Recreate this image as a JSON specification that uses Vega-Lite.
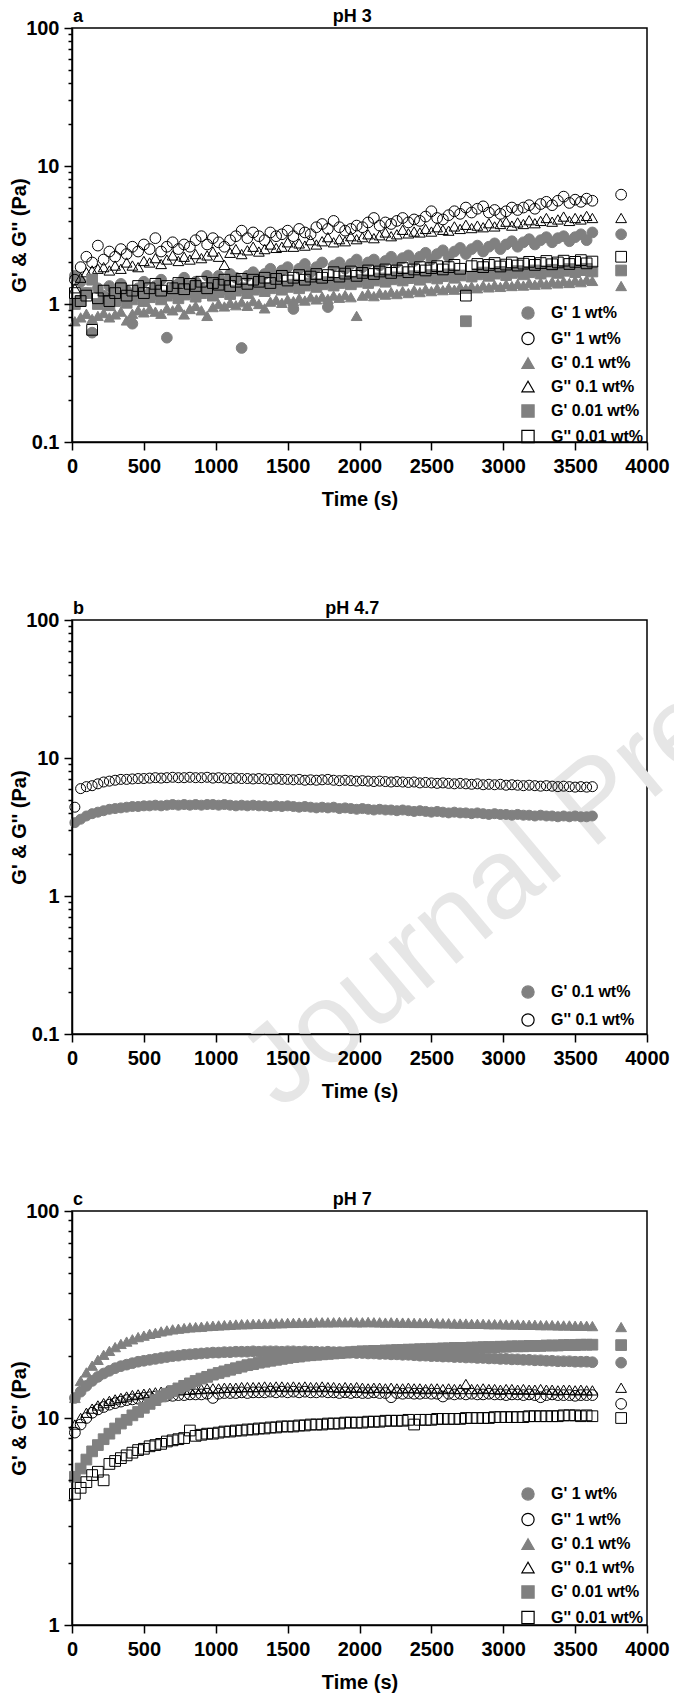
{
  "$schema": "https://vega.github.io/schema/vega-lite/v6.json",
  "background": "white",
  "padding": {"left": 8, "top": 7, "right": 2, "bottom": 2},
  "spacing": 89,
  "config": {
    "font": "Liberation Sans",
    "view": {"stroke": "black", "strokeWidth": 1.5},
    "axis": {
      "grid": false, "domainColor": "black", "domainWidth": 1.5, "tickColor": "black", "tickWidth": 1.5,
      "labelColor": "black", "labelFont": "Liberation Sans", "labelFontSize": 20, "labelFontWeight": "bold",
      "titleFont": "Liberation Sans", "titleFontSize": 20, "titleFontWeight": "bold", "titleColor": "black",
      "labelFlush": false, "labelOverlap": false
    },
    "axisX": {"labelPadding": 6, "titlePadding": 13},
    "axisY": {"labelPadding": 5, "titlePadding": -4},
    "legend": {"orient": "none", "title": null, "symbolSize": 150, "symbolStrokeWidth": 1.2, "labelFontSize": 16, "labelFontWeight": "bold", "labelFont": "Liberation Sans", "labelColor": "black", "labelOffset": 15, "padding": 0},
    "text": {"font": "Liberation Sans"}
  },
  "vconcat": [
    {
      "width": 575, "height": 414,
      "layer": [
        {
          "data": {"values": [{
            "t": [20,60,100,140,180,220,260,300,340,380,420,460,500,540,580,620,660,700,740,780,820,860,900,940,980,1020,1060,1100,1140,1180,1220,1260,1300,1340,1380,1420,1460,1500,1540,1580,1620,1660,1700,1740,1780,1820,1860,1900,1940,1980,2020,2060,2100,2140,2180,2220,2260,2300,2340,2380,2420,2460,2500,2540,2580,2620,2660,2700,2740,2780,2820,2860,2900,2940,2980,3020,3060,3100,3140,3180,3220,3260,3300,3340,3380,3420,3460,3500,3540,3580,3620,3820],
            "c1": [1.6,1.45,1.2,0.62,1.3,1.15,1.35,1.2,1.4,1.25, 0.72,1.3,1.45,1.2,1.35,1.5,0.57,1.3,1.4,1.55, 1.35,1.45,1.3,1.6,1.4,1.6,1.45,1.65,1.55,0.48, 1.6,1.7,1.5,1.65,1.8,1.6,1.75,1.85,0.92,1.8, 1.95,1.7,1.85,2.0,0.95,1.9,2.0,1.8,1.95,2.1, 1.85,2.0,2.1,1.9,2.05,2.2,2.0,2.15,2.25,2.05, 2.2,2.35,2.1,2.3,2.45,2.2,2.4,2.55,2.3,2.5, 2.65,2.4,2.6,2.75,2.5,2.7,2.85,2.6,2.8,2.95, 2.7,2.9,3.05,2.8,3.0,3.1,2.85,3.05,3.2,2.9, 3.3,3.2],
            "o1": [1.5,1.85,2.2,2.0,2.65,2.1,2.4,2.2,2.5,2.3, 2.6,2.4,2.7,2.5,3.0,2.4,2.6,2.8,2.5,2.7, 2.6,2.9,3.1,2.7,3.0,2.8,2.6,2.9,3.1,3.4, 3.0,3.3,3.1,2.9,3.3,3.1,3.2,3.4,3.1,3.5, 3.3,3.2,3.6,3.8,3.5,4.0,3.6,3.4,3.5,3.7, 3.6,3.9,4.2,3.7,3.9,3.8,4.0,4.2,3.9,4.1, 4.0,4.3,4.7,4.2,4.1,4.4,4.7,4.5,5.0,4.6, 4.9,5.1,4.6,4.8,4.5,4.7,5.0,4.8,5.0,5.2, 4.9,5.3,5.5,5.2,5.6,6.0,5.4,5.7,5.5,5.8, 5.6,6.2],
            "c01": [0.75,0.8,0.85,0.78,0.82,0.86,0.8,0.84,0.88,0.76, 0.85,0.9,0.87,0.92,0.88,0.85,0.93,0.9,0.95,0.84, 0.92,0.97,0.9,0.82,0.95,1.0,0.96,1.02,0.98,1.03, 0.97,1.05,1.0,0.93,1.04,1.07,1.02,1.08,1.05,1.1, 1.06,1.12,1.08,1.13,1.09,1.15,1.11,1.16,1.12,0.82, 1.15,1.19,1.14,1.2,1.17,1.22,1.18,1.24,1.2,1.26, 1.22,1.28,1.24,1.3,1.26,1.31,1.27,1.33,1.29,1.34, 1.3,1.36,1.32,1.37,1.33,1.39,1.35,1.4,1.36,1.42, 1.38,1.43,1.39,1.45,1.41,1.46,1.42,1.48,1.44,1.5, 1.47,1.35],
            "o01": [1.3,1.55,1.7,1.75,1.8,1.85,1.75,1.9,1.8,2.0, 1.9,1.85,2.05,2.0,2.15,1.95,2.1,2.25,2.05,2.2, 2.1,2.3,2.15,2.25,2.4,2.2,1.92,2.35,2.5,2.3, 2.45,2.6,2.4,2.5,2.7,2.55,2.6,2.8,2.6,2.75, 2.65,2.9,2.7,2.85,3.05,2.8,2.95,2.85,3.1,2.95, 3.05,3.2,3.0,3.15,3.3,3.1,3.2,3.45,3.25,3.35, 3.3,3.5,3.35,3.6,3.45,3.4,3.65,3.5,3.75,3.55, 3.7,3.6,3.85,3.65,3.8,3.95,3.7,3.9,3.8,4.05, 3.85,4.0,4.2,3.95,4.1,4.3,4.0,4.2,4.1,4.35, 4.2,4.2],
            "c001": [1.0,1.05,1.2,1.5,1.0,1.08,0.98,1.05,1.12,1.02, 1.08,1.15,1.05,1.12,1.18,1.08,1.15,1.2,1.1,1.17, 1.22,1.13,1.2,1.25,1.15,1.22,1.28,1.18,1.25,1.3, 1.2,1.27,1.33,1.24,1.3,1.36,1.27,1.33,1.38,1.3, 1.36,1.41,1.33,1.39,1.44,1.36,1.42,1.47,1.39,1.45, 1.5,1.42,1.48,1.53,1.45,1.51,1.56,1.48,1.54,1.59, 1.5,1.56,1.62,1.53,1.59,1.64,1.55,1.61,0.75,1.58, 1.64,1.69,1.6,1.66,1.71,1.62,1.68,1.73,1.64,1.7, 1.75,1.66,1.72,1.77,1.68,1.74,1.79,1.7,1.76,1.8, 1.72,1.75],
            "o001": [1.2,1.05,1.15,0.65,1.1,1.25,1.05,1.2,1.3,1.15, 1.25,1.35,1.2,1.3,1.4,1.25,1.35,1.3,1.42,1.28, 1.4,1.35,1.45,1.3,1.42,1.38,1.5,1.35,1.45,1.52, 1.4,1.5,1.45,1.55,1.42,1.52,1.6,1.48,1.55,1.62, 1.5,1.58,1.65,1.55,1.62,1.7,1.58,1.66,1.72,1.6, 1.68,1.75,1.65,1.72,1.78,1.68,1.75,1.82,1.7,1.78, 1.85,1.75,1.82,1.88,1.78,1.85,1.92,1.8,1.15,1.88, 1.95,1.85,1.92,1.98,1.87,1.93,2.0,1.9,1.96,2.02, 1.92,1.98,2.05,1.94,2.0,2.06,1.95,2.02,2.08,1.97, 2.03,2.2]
          }]},
          "transform": [
            {"fold": ["c1","o1","c01","o01","c001","o001"], "as": ["s","v"]},
            {"flatten": ["t","v"]}
          ],
          "mark": {"type": "point", "filled": true, "opacity": 1, "strokeWidth": 1, "size": 115},
          "encoding": {
            "x": {"field": "t", "type": "quantitative", "scale": {"domain": [0,4000], "nice": false},
              "axis": {"title": "Time (s)", "zindex": 1, "values": [0,250,500,750,1000,1250,1500,1750,2000,2250,2500,2750,3000,3250,3500,3750,4000],
                "labelExpr": "datum.value % 500 == 0 ? format(datum.value, 'd') : ''",
                "tickSize": {"condition": {"test": "datum.value % 500 == 0", "value": 8}, "value": 4}}},
            "y": {"field": "v", "type": "quantitative", "scale": {"type": "log", "domain": [0.1,100], "nice": false},
              "axis": {"title": "G' & G'' (Pa)", "zindex": 1, "values": [0.1,0.2,0.3,0.4,0.5,0.6,0.7,0.8,0.9,1,2,3,4,5,6,7,8,9,10,20,30,40,50,60,70,80,90,100],
                "labelExpr": "indexof([0.1,1,10,100], datum.value) >= 0 ? format(datum.value, '~g') : ''",
                "tickSize": {"condition": {"test": "indexof([0.1,1,10,100], datum.value) >= 0", "value": 8}, "value": 4}}},
            "shape": {"field": "s", "type": "nominal", "scale": {"domain": ["c1","o1","c01","o01","c001","o001"], "range": ["circle","circle","triangle-up","triangle-up","square","square"]},
              "legend": {"legendX": 448, "legendY": 277, "rowPadding": 7.5,
                "labelExpr": "datum.label == 'c1' ? \"G' 1 wt%\" : datum.label == 'o1' ? \"G'' 1 wt%\" : datum.label == 'c01' ? \"G' 0.1 wt%\" : datum.label == 'o01' ? \"G'' 0.1 wt%\" : datum.label == 'c001' ? \"G' 0.01 wt%\" : \"G'' 0.01 wt%\""}},
            "fill": {"field": "s", "type": "nominal", "scale": {"domain": ["c1","o1","c01","o01","c001","o001"], "range": ["#808080","transparent","#808080","transparent","#808080","transparent"]},
              "legend": {"legendX": 448, "legendY": 277, "rowPadding": 7.5,
                "labelExpr": "datum.label == 'c1' ? \"G' 1 wt%\" : datum.label == 'o1' ? \"G'' 1 wt%\" : datum.label == 'c01' ? \"G' 0.1 wt%\" : datum.label == 'o01' ? \"G'' 0.1 wt%\" : datum.label == 'c001' ? \"G' 0.01 wt%\" : \"G'' 0.01 wt%\""}},
            "stroke": {"field": "s", "type": "nominal", "scale": {"domain": ["c1","o1","c01","o01","c001","o001"], "range": ["#808080","black","#808080","black","#808080","black"]},
              "legend": {"legendX": 448, "legendY": 277, "rowPadding": 7.5,
                "labelExpr": "datum.label == 'c1' ? \"G' 1 wt%\" : datum.label == 'o1' ? \"G'' 1 wt%\" : datum.label == 'c01' ? \"G' 0.1 wt%\" : datum.label == 'o01' ? \"G'' 0.1 wt%\" : datum.label == 'c001' ? \"G' 0.01 wt%\" : \"G'' 0.01 wt%\""}}
          }
        },
        {
          "data": {"values": [{}]},
          "mark": {"type": "text", "text": "a", "align": "left", "baseline": "alphabetic", "dx": 1, "dy": -6, "fontSize": 18, "fontWeight": "bold", "color": "black"},
          "encoding": {"x": {"datum": 0}, "y": {"datum": 100}}
        },
        {
          "data": {"values": [{}]},
          "mark": {"type": "text", "text": "pH 3", "align": "center", "baseline": "alphabetic", "dy": -6, "fontSize": 18, "fontWeight": "bold", "color": "black"},
          "encoding": {"x": {"datum": 1950}, "y": {"datum": 100}}
        }
      ]
    },
    {
      "spacing": 60,
      "vconcat": [
        {
          "width": 575, "height": 414,
          "layer": [
            {
              "data": {"values": [{}]},
              "mark": {"type": "text", "text": "Journal Pre", "align": "left", "baseline": "alphabetic", "angle": -40, "fontSize": 114, "font": "Liberation Sans", "fontWeight": "normal", "color": "#e6e6e6"},
              "encoding": {"x": {"datum": 1450}, "y": {"datum": 0.0275}}
            },
            {
              "data": {"values": [{
                "t": [20,60,100,140,180,220,260,300,340,380,420,460,500,540,580,620,660,700,740,780,820,860,900,940,980,1020,1060,1100,1140,1180,1220,1260,1300,1340,1380,1420,1460,1500,1540,1580,1620,1660,1700,1740,1780,1820,1860,1900,1940,1980,2020,2060,2100,2140,2180,2220,2260,2300,2340,2380,2420,2460,2500,2540,2580,2620,2660,2700,2740,2780,2820,2860,2900,2940,2980,3020,3060,3100,3140,3180,3220,3260,3300,3340,3380,3420,3460,3500,3540,3580,3620],
                "c01": [3.4,3.6,3.8,3.95,4.05,4.15,4.25,4.3,4.35,4.4, 4.45,4.45,4.5,4.5,4.55,4.5,4.55,4.6,4.55,4.6, 4.55,4.6,4.55,4.6,4.6,4.55,4.6,4.55,4.5,4.55, 4.5,4.55,4.5,4.5,4.45,4.5,4.45,4.5,4.45,4.4, 4.45,4.4,4.35,4.4,4.35,4.4,4.3,4.35,4.3,4.25, 4.3,4.25,4.2,4.25,4.2,4.2,4.15,4.2,4.15,4.1, 4.15,4.1,4.05,4.1,4.05,4.0,4.05,4.0,4.0,3.95, 4.0,3.95,3.9,3.95,3.9,3.9,3.85,3.9,3.85,3.85, 3.8,3.85,3.8,3.8,3.75,3.8,3.75,3.8,3.75,3.75, 3.8],
                "o01": [4.4,6.0,6.2,6.3,6.5,6.7,6.8,6.9,7.0,7.0, 7.05,7.1,7.1,7.15,7.2,7.15,7.2,7.25,7.2,7.2, 7.25,7.2,7.2,7.25,7.15,7.2,7.15,7.1,7.15,7.1, 7.1,7.05,7.1,7.05,7.0,7.05,7.0,7.0,6.95,7.0, 6.9,6.95,6.9,6.95,7.0,6.9,6.85,6.9,6.85,6.8, 6.85,6.8,6.75,6.8,6.75,6.7,6.75,6.7,6.65,6.7, 6.6,6.65,6.6,6.55,6.6,6.55,6.5,6.55,6.5,6.45, 6.5,6.4,6.45,6.4,6.45,6.35,6.4,6.35,6.3,6.35, 6.3,6.25,6.3,6.25,6.2,6.25,6.2,6.15,6.2,6.15, 6.2]
              }]},
              "transform": [
                {"fold": ["c01","o01"], "as": ["s","v"]},
                {"flatten": ["t","v"]}
              ],
              "mark": {"type": "point", "filled": true, "opacity": 1, "strokeWidth": 1, "size": 100},
              "encoding": {
                "x": {"field": "t", "type": "quantitative", "scale": {"domain": [0,4000], "nice": false},
                  "axis": {"title": "Time (s)", "zindex": 1, "values": [0,250,500,750,1000,1250,1500,1750,2000,2250,2500,2750,3000,3250,3500,3750,4000],
                    "labelExpr": "datum.value % 500 == 0 ? format(datum.value, 'd') : ''",
                    "tickSize": {"condition": {"test": "datum.value % 500 == 0", "value": 8}, "value": 4}}},
                "y": {"field": "v", "type": "quantitative", "scale": {"type": "log", "domain": [0.1,100], "nice": false},
                  "axis": {"title": "G' & G'' (Pa)", "zindex": 1, "values": [0.1,0.2,0.3,0.4,0.5,0.6,0.7,0.8,0.9,1,2,3,4,5,6,7,8,9,10,20,30,40,50,60,70,80,90,100],
                    "labelExpr": "indexof([0.1,1,10,100], datum.value) >= 0 ? format(datum.value, '~g') : ''",
                    "tickSize": {"condition": {"test": "indexof([0.1,1,10,100], datum.value) >= 0", "value": 8}, "value": 4}}},
                "shape": {"field": "s", "type": "nominal", "scale": {"domain": ["c01","o01"], "range": ["circle","circle"]},
                  "legend": {"legendX": 448, "legendY": 364, "rowPadding": 10, "labelExpr": "datum.label == 'c01' ? \"G' 0.1 wt%\" : \"G'' 0.1 wt%\""}},
                "fill": {"field": "s", "type": "nominal", "scale": {"domain": ["c01","o01"], "range": ["#808080","transparent"]},
                  "legend": {"legendX": 448, "legendY": 364, "rowPadding": 10, "labelExpr": "datum.label == 'c01' ? \"G' 0.1 wt%\" : \"G'' 0.1 wt%\""}},
                "stroke": {"field": "s", "type": "nominal", "scale": {"domain": ["c01","o01"], "range": ["#808080","black"]},
                  "legend": {"legendX": 448, "legendY": 364, "rowPadding": 10, "labelExpr": "datum.label == 'c01' ? \"G' 0.1 wt%\" : \"G'' 0.1 wt%\""}}
              }
            },
            {
              "data": {"values": [{}]},
              "mark": {"type": "text", "text": "b", "align": "left", "baseline": "alphabetic", "dx": 1, "dy": -6, "fontSize": 18, "fontWeight": "bold", "color": "black"},
              "encoding": {"x": {"datum": 0}, "y": {"datum": 100}}
            },
            {
              "data": {"values": [{}]},
              "mark": {"type": "text", "text": "pH 4.7", "align": "center", "baseline": "alphabetic", "dy": -6, "fontSize": 18, "fontWeight": "bold", "color": "black"},
              "encoding": {"x": {"datum": 1950}, "y": {"datum": 100}}
            }
          ]
        },
        {
          "width": 575, "height": 414,
          "layer": [
            {
              "data": {"values": [{
                "t": [20,60,100,140,180,220,260,300,340,380,420,460,500,540,580,620,660,700,740,780,820,860,900,940,980,1020,1060,1100,1140,1180,1220,1260,1300,1340,1380,1420,1460,1500,1540,1580,1620,1660,1700,1740,1780,1820,1860,1900,1940,1980,2020,2060,2100,2140,2180,2220,2260,2300,2340,2380,2420,2460,2500,2540,2580,2620,2660,2700,2740,2780,2820,2860,2900,2940,2980,3020,3060,3100,3140,3180,3220,3260,3300,3340,3380,3420,3460,3500,3540,3580,3620,3820],
                "c1": [12.5,13.4,14.3,15.1,15.8,16.4,16.9,17.4,17.8,18.1, 18.4,18.7,18.9,19.1,19.3,19.5,19.7,19.9,20.0,20.2, 20.3,20.4,20.5,20.6,20.7,20.7,20.8,20.8,20.9,20.9, 20.9,21.0,20.9,21.0,21.0,21.0,20.9,21.0,21.0,20.9, 21.0,20.9,20.9,20.8,20.9,20.8,20.8,20.7,20.7,20.6, 20.6,20.5,20.5,20.4,20.4,20.3,20.3,20.2,20.2,20.1, 20.0,20.0,19.9,19.9,19.8,19.8,19.7,19.7,19.6,19.6, 19.5,19.5,19.4,19.4,19.3,19.3,19.2,19.2,19.1,19.1, 19.0,19.0,18.9,18.9,18.8,18.8,18.8,18.7,18.7,18.7, 18.6,18.5],
                "o1": [8.5,9.3,10.0,10.6,11.0,11.3,11.6,11.8,12.0,12.2, 12.3,12.4,12.5,12.6,12.7,12.7,12.8,12.8,12.9,12.9, 13.0,13.0,13.0,13.1,12.5,13.1,13.2,13.2,13.2,13.3, 13.2,13.3,13.3,13.3,13.4,13.3,13.4,13.3,13.4,13.3, 13.4,13.3,13.3,13.4,13.3,13.3,13.2,13.3,13.2,13.3, 13.2,13.2,13.3,13.2,13.2,12.6,13.2,13.1,13.2,13.1, 13.1,13.2,13.1,13.1,12.7,13.1,13.0,13.1,13.0,13.1, 13.0,13.0,13.1,13.0,13.0,12.9,13.0,13.0,12.9,13.0, 12.9,12.6,12.9,13.0,12.9,12.9,12.9,12.8,12.9,12.9, 12.9,11.7],
                "c01": [12.5,15.1,16.6,17.9,19.1,20.2,21.1,22.0,22.8,23.4, 24.0,24.6,25.0,25.5,25.8,26.2,26.5,26.8,27.0,27.2, 27.4,27.5,27.6,27.8,27.9,28.0,28.1,28.2,28.3,28.4, 28.4,28.5,28.5,28.6,28.6,28.7,28.7,28.8,28.8,28.9, 28.9,28.9,29.0,29.0,29.0,29.0,29.1,29.0,29.1,29.0, 29.0,29.1,29.0,29.0,28.9,29.0,28.9,28.9,28.9,28.8, 28.8,28.8,28.8,28.7,28.7,28.7,28.6,28.6,28.6,28.5, 28.5,28.5,28.4,28.4,28.4,28.3,28.3,28.3,28.2,28.2, 28.2,28.1,28.1,28.1,28.0,28.0,28.0,27.9,27.9,27.9, 27.8,27.5],
                "o01": [9.3,10.0,10.6,11.1,11.5,11.8,12.1,12.3,12.5,12.7, 12.9,13.0,13.1,13.2,13.3,13.4,13.5,13.6,13.6,13.7, 13.7,13.8,13.8,13.9,13.9,13.9,14.0,14.0,14.0,14.1, 14.1,14.1,14.1,14.2,14.1,14.2,14.2,14.1,14.2,14.1, 14.2,14.1,14.1,14.2,14.1,14.1,14.0,14.1,14.0,14.1, 14.0,13.9,14.0,14.0,13.9,14.0,13.9,13.9,14.0,13.9, 13.9,13.8,13.9,13.9,13.8,13.9,13.8,13.8,14.6,13.8, 13.8,13.9,13.8,13.8,13.7,13.8,13.8,13.7,13.8,13.7, 13.7,13.8,13.7,13.7,13.6,13.7,13.7,13.6,13.7,13.6, 13.6,14.0],
                "c001": [5.2,5.7,6.3,6.9,7.4,7.9,8.4,8.9,9.4,9.8, 10.3,10.7,11.2,11.7,12.2,12.7,13.1,13.5,13.9,14.3, 14.7,15.1,15.5,15.8,16.2,16.5,16.8,17.1,17.4,17.7, 18.0,18.2,18.5,18.7,18.9,19.1,19.3,19.5,19.7,19.8, 20.0,20.1,20.2,20.3,20.4,20.5,20.6,20.7,20.8,20.9, 21.0,21.0,21.1,21.1,21.2,21.2,21.3,21.3,21.4,21.4, 21.5,21.5,21.6,21.6,21.7,21.7,21.8,21.8,21.8,21.9, 21.9,22.0,22.0,22.0,22.1,22.1,22.2,22.2,22.2,22.3, 22.3,22.3,22.4,22.4,22.4,22.5,22.5,22.5,22.6,22.6, 22.6,22.5],
                "o001": [4.3,4.6,4.9,5.3,5.5,5.0,6.0,6.2,6.4,6.6, 6.8,7.0,7.1,7.3,7.4,7.5,7.7,7.8,7.9,8.0, 8.7,8.2,8.3,8.4,8.4,8.5,8.6,8.6,8.7,8.7, 8.8,8.8,8.9,8.9,9.0,9.0,9.1,9.1,9.1,9.2, 9.2,9.3,9.3,9.3,9.4,9.4,9.4,9.5,9.5,9.5, 9.5,9.6,9.6,9.6,9.7,9.7,9.7,9.7,9.8,9.3, 9.8,9.8,9.8,9.9,9.9,9.9,9.9,9.9,10.0,10.0, 10.0,10.0,10.0,10.1,10.1,10.1,10.1,10.1,10.1,10.2, 10.2,10.2,10.2,10.2,10.2,10.3,10.3,10.3,10.2,10.3, 10.2,10.0]
              }]},
              "transform": [
                {"fold": ["c1","o1","c01","o01","c001","o001"], "as": ["s","v"]},
                {"flatten": ["t","v"]}
              ],
              "mark": {"type": "point", "filled": true, "opacity": 1, "strokeWidth": 1, "size": 115},
              "encoding": {
                "x": {"field": "t", "type": "quantitative", "scale": {"domain": [0,4000], "nice": false},
                  "axis": {"title": "Time (s)", "zindex": 1, "values": [0,250,500,750,1000,1250,1500,1750,2000,2250,2500,2750,3000,3250,3500,3750,4000],
                    "labelExpr": "datum.value % 500 == 0 ? format(datum.value, 'd') : ''",
                    "tickSize": {"condition": {"test": "datum.value % 500 == 0", "value": 8}, "value": 4}}},
                "y": {"field": "v", "type": "quantitative", "scale": {"type": "log", "domain": [1,100], "nice": false},
                  "axis": {"title": "G' & G'' (Pa)", "zindex": 1, "values": [1,2,3,4,5,6,7,8,9,10,20,30,40,50,60,70,80,90,100],
                    "labelExpr": "indexof([1,10,100], datum.value) >= 0 ? format(datum.value, '~g') : ''",
                    "tickSize": {"condition": {"test": "indexof([1,10,100], datum.value) >= 0", "value": 8}, "value": 4}}},
                "shape": {"field": "s", "type": "nominal", "scale": {"domain": ["c1","o1","c01","o01","c001","o001"], "range": ["circle","circle","triangle-up","triangle-up","square","square"]},
                  "legend": {"legendX": 448, "legendY": 275, "rowPadding": 7.5,
                    "labelExpr": "datum.label == 'c1' ? \"G' 1 wt%\" : datum.label == 'o1' ? \"G'' 1 wt%\" : datum.label == 'c01' ? \"G' 0.1 wt%\" : datum.label == 'o01' ? \"G'' 0.1 wt%\" : datum.label == 'c001' ? \"G' 0.01 wt%\" : \"G'' 0.01 wt%\""}},
                "fill": {"field": "s", "type": "nominal", "scale": {"domain": ["c1","o1","c01","o01","c001","o001"], "range": ["#808080","transparent","#808080","transparent","#808080","transparent"]},
                  "legend": {"legendX": 448, "legendY": 275, "rowPadding": 7.5,
                    "labelExpr": "datum.label == 'c1' ? \"G' 1 wt%\" : datum.label == 'o1' ? \"G'' 1 wt%\" : datum.label == 'c01' ? \"G' 0.1 wt%\" : datum.label == 'o01' ? \"G'' 0.1 wt%\" : datum.label == 'c001' ? \"G' 0.01 wt%\" : \"G'' 0.01 wt%\""}},
                "stroke": {"field": "s", "type": "nominal", "scale": {"domain": ["c1","o1","c01","o01","c001","o001"], "range": ["#808080","black","#808080","black","#808080","black"]},
                  "legend": {"legendX": 448, "legendY": 275, "rowPadding": 7.5,
                    "labelExpr": "datum.label == 'c1' ? \"G' 1 wt%\" : datum.label == 'o1' ? \"G'' 1 wt%\" : datum.label == 'c01' ? \"G' 0.1 wt%\" : datum.label == 'o01' ? \"G'' 0.1 wt%\" : datum.label == 'c001' ? \"G' 0.01 wt%\" : \"G'' 0.01 wt%\""}}
              }
            },
            {
              "data": {"values": [{}]},
              "mark": {"type": "text", "text": "c", "align": "left", "baseline": "alphabetic", "dx": 1, "dy": -6, "fontSize": 18, "fontWeight": "bold", "color": "black"},
              "encoding": {"x": {"datum": 0}, "y": {"datum": 100}}
            },
            {
              "data": {"values": [{}]},
              "mark": {"type": "text", "text": "pH 7", "align": "center", "baseline": "alphabetic", "dy": -6, "fontSize": 18, "fontWeight": "bold", "color": "black"},
              "encoding": {"x": {"datum": 1950}, "y": {"datum": 100}}
            }
          ]
        }
      ],
      "resolve": {"scale": {"x": "independent", "y": "independent", "shape": "independent", "fill": "independent", "stroke": "independent"}, "legend": {"shape": "independent", "fill": "independent", "stroke": "independent"}}
    }
  ],
  "resolve": {"scale": {"x": "independent", "y": "independent", "shape": "independent", "fill": "independent", "stroke": "independent"}, "legend": {"shape": "independent", "fill": "independent", "stroke": "independent"}}
}
